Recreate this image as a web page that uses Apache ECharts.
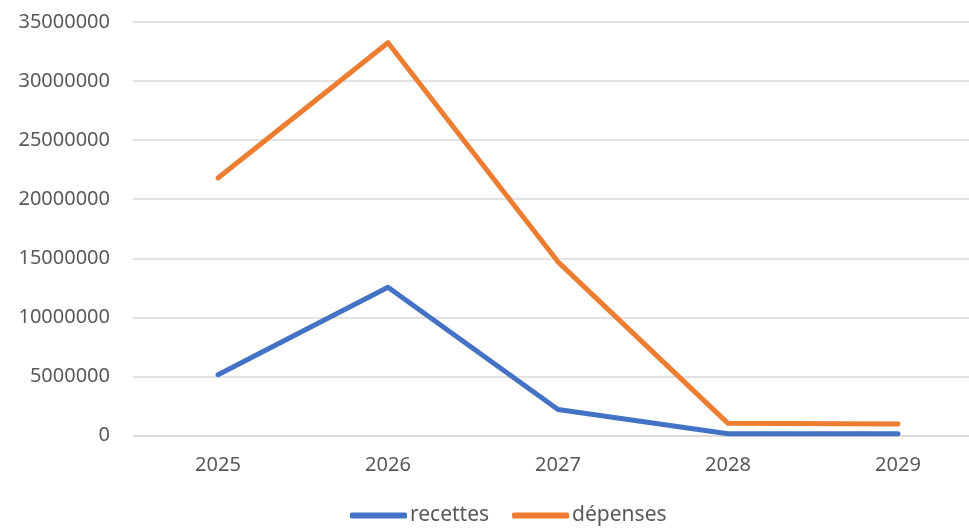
<!DOCTYPE html>
<html>
<head>
<meta charset="utf-8">
<script src="https://cdn.jsdelivr.net/npm/echarts@6/dist/echarts.min.js"></script>
<style>html,body{margin:0;padding:0;background:#fff;overflow:hidden}#c{width:985px;height:532px}</style>
</head>
<body>
<div id="c"></div>
<script>
const years = ['2025', '2026', '2027', '2028', '2029'];
const recettes = [5150000, 12550000, 2200000, 150000, 150000];
const depenses = [21800000, 33250000, 14700000, 1030000, 980000];

const chart = echarts.init(document.getElementById('c'));
const font = 'Noto Sans';
chart.setOption({
  animation: false,
  textStyle: { fontFamily: font },
  grid: { left: 133, top: 22, right: 2, bottom: 96.5, containLabel: false },
  legend: {
    bottom: 1,
    left: 345,
    icon: 'roundRect',
    itemWidth: 57,
    itemHeight: 6,
    itemGap: 23,
    textStyle: { fontFamily: font, fontSize: 21, color: '#595959', padding: [0, 0, 0, -2] },
    data: ['recettes', 'dépenses']
  },
  xAxis: {
    type: 'category',
    data: years,
    boundaryGap: true,
    axisLine: { show: true, lineStyle: { color: '#D9D9D9', width: 1.5 } },
    axisTick: { show: false },
    axisLabel: { color: '#595959', fontSize: 20, margin: 20, fontFamily: font }
  },
  yAxis: {
    type: 'value',
    min: 0,
    max: 35000000,
    interval: 5000000,
    axisLine: { show: false },
    axisTick: { show: false },
    axisLabel: { color: '#595959', fontSize: 20, margin: 23, fontFamily: font, formatter: v => String(v) },
    splitLine: { lineStyle: { color: '#D9D9D9', width: 1.5 } }
  },
  series: [
    {
      name: 'recettes', type: 'line', data: recettes, symbol: 'none',
      itemStyle: { color: '#4472C4' },
      lineStyle: { color: '#4472C4', width: 5, cap: 'round', join: 'round' }
    },
    {
      name: 'dépenses', type: 'line', data: depenses, symbol: 'none',
      itemStyle: { color: '#ED7D31' },
      lineStyle: { color: '#ED7D31', width: 5, cap: 'round', join: 'round' }
    }
  ]
});
</script>
</body>
</html>
